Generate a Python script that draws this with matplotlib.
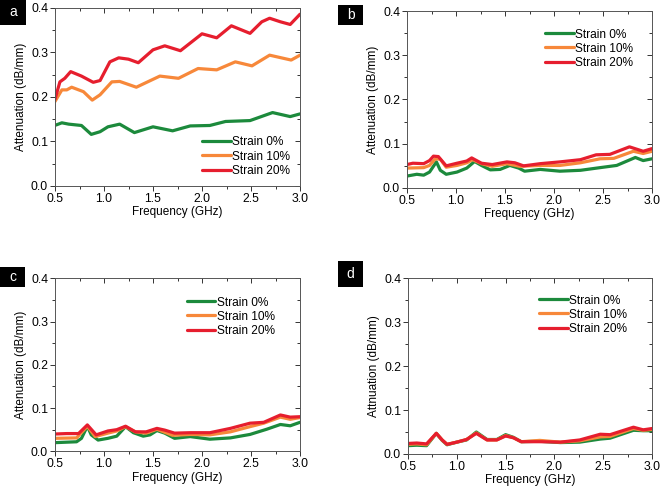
import numpy as np
import matplotlib
matplotlib.use('Agg')
import matplotlib.pyplot as plt
from matplotlib.patches import Rectangle
from matplotlib.ticker import MultipleLocator, FormatStrFormatter

plt.rcParams['font.family'] = ['Liberation Sans', 'DejaVu Sans']

labels = ['Strain 0%', 'Strain 10%', 'Strain 20%']
colors = ['#1c8a3c', '#f7883a', '#e61e2e']

# panel a
a_f0 = [0.51, 0.57, 0.64, 0.77, 0.87, 0.96, 1.04, 1.16, 1.31, 1.50, 1.70, 1.88, 2.08, 2.24, 2.49, 2.72, 2.90, 3.0]
a_v0 = [0.137, 0.142, 0.139, 0.136, 0.116, 0.122, 0.133, 0.139, 0.120, 0.133, 0.124, 0.135, 0.136, 0.145, 0.147, 0.165, 0.156, 0.162]
a_f1 = [0.5, 0.57, 0.62, 0.67, 0.79, 0.88, 0.96, 1.08, 1.16, 1.33, 1.57, 1.76, 1.96, 2.15, 2.34, 2.51, 2.69, 2.91, 3.0]
a_v1 = [0.190, 0.216, 0.216, 0.222, 0.212, 0.193, 0.205, 0.234, 0.235, 0.222, 0.247, 0.242, 0.264, 0.261, 0.279, 0.270, 0.294, 0.283, 0.294]
a_f2 = [0.5, 0.55, 0.60, 0.66, 0.77, 0.89, 0.96, 1.06, 1.15, 1.25, 1.35, 1.50, 1.62, 1.78, 2.0, 2.15, 2.30, 2.49, 2.61, 2.69, 2.80, 2.90, 3.0]
a_v2 = [0.195, 0.234, 0.242, 0.257, 0.247, 0.233, 0.237, 0.279, 0.288, 0.285, 0.277, 0.306, 0.315, 0.304, 0.342, 0.333, 0.360, 0.343, 0.369, 0.377, 0.369, 0.363, 0.386]

# panel b
b_f0 = [0.5, 0.6, 0.67, 0.73, 0.80, 0.84, 0.90, 1.01, 1.11, 1.19, 1.26, 1.35, 1.45, 1.55, 1.64, 1.70, 1.86, 2.06, 2.27, 2.47, 2.64, 2.83, 2.91, 3.0]
b_v0 = [0.027, 0.031, 0.029, 0.036, 0.059, 0.040, 0.031, 0.036, 0.045, 0.060, 0.051, 0.041, 0.042, 0.051, 0.045, 0.038, 0.042, 0.038, 0.040, 0.046, 0.051, 0.069, 0.062, 0.066]
b_f1 = [0.5, 0.67, 0.73, 0.79, 0.84, 0.90, 1.01, 1.11, 1.17, 1.26, 1.37, 1.52, 1.65, 1.86, 2.06, 2.27, 2.47, 2.61, 2.81, 2.91, 3.0]
b_v1 = [0.045, 0.046, 0.051, 0.066, 0.065, 0.047, 0.051, 0.057, 0.064, 0.055, 0.049, 0.055, 0.049, 0.051, 0.051, 0.057, 0.066, 0.067, 0.083, 0.078, 0.083]
b_f2 = [0.5, 0.56, 0.67, 0.73, 0.77, 0.82, 0.90, 1.01, 1.11, 1.16, 1.26, 1.37, 1.52, 1.60, 1.69, 1.86, 2.06, 2.27, 2.43, 2.57, 2.77, 2.91, 3.0]
b_v2 = [0.053, 0.056, 0.055, 0.062, 0.072, 0.071, 0.050, 0.056, 0.061, 0.068, 0.056, 0.053, 0.059, 0.057, 0.050, 0.055, 0.059, 0.064, 0.075, 0.076, 0.093, 0.083, 0.089]

# panel c
c_f0 = [0.5, 0.72, 0.77, 0.83, 0.87, 0.94, 1.04, 1.13, 1.22, 1.30, 1.40, 1.47, 1.54, 1.62, 1.72, 1.88, 2.08, 2.29, 2.49, 2.66, 2.80, 2.90, 3.0]
c_v0 = [0.020, 0.022, 0.030, 0.058, 0.038, 0.026, 0.030, 0.035, 0.057, 0.043, 0.035, 0.038, 0.048, 0.042, 0.030, 0.034, 0.028, 0.031, 0.039, 0.051, 0.062, 0.059, 0.067]
c_f1 = [0.5, 0.72, 0.83, 0.91, 1.04, 1.13, 1.22, 1.32, 1.43, 1.54, 1.70, 1.88, 2.08, 2.29, 2.49, 2.63, 2.80, 2.90, 3.0]
c_v1 = [0.030, 0.031, 0.058, 0.034, 0.042, 0.047, 0.057, 0.045, 0.042, 0.051, 0.037, 0.039, 0.038, 0.045, 0.057, 0.065, 0.079, 0.074, 0.078]
c_f2 = [0.5, 0.62, 0.74, 0.83, 0.92, 1.04, 1.13, 1.22, 1.32, 1.43, 1.54, 1.62, 1.72, 1.88, 2.08, 2.29, 2.49, 2.63, 2.80, 2.90, 3.0]
c_v2 = [0.040, 0.041, 0.041, 0.061, 0.038, 0.047, 0.050, 0.058, 0.045, 0.045, 0.053, 0.049, 0.042, 0.043, 0.043, 0.053, 0.065, 0.067, 0.084, 0.079, 0.080]

# panel d
d_f = [0.5, 0.59, 0.69, 0.79, 0.85, 0.90, 1.0, 1.10, 1.20, 1.31, 1.41, 1.50, 1.58, 1.66, 1.85, 2.06, 2.26, 2.47, 2.57, 2.81, 2.91, 3.0]
d_v0 = [0.019, 0.020, 0.019, 0.047, 0.031, 0.021, 0.027, 0.032, 0.050, 0.033, 0.033, 0.044, 0.038, 0.028, 0.029, 0.026, 0.027, 0.034, 0.036, 0.054, 0.053, 0.053]
d_v1 = [0.022, 0.023, 0.021, 0.047, 0.032, 0.022, 0.027, 0.033, 0.048, 0.032, 0.032, 0.042, 0.037, 0.028, 0.031, 0.027, 0.030, 0.039, 0.040, 0.058, 0.054, 0.056]
d_v2 = [0.024, 0.025, 0.023, 0.047, 0.032, 0.022, 0.027, 0.033, 0.047, 0.032, 0.032, 0.041, 0.037, 0.028, 0.028, 0.027, 0.032, 0.045, 0.044, 0.061, 0.055, 0.058]

W, H = 660, 488

def px_axes(fig, left, top, right, bottom):
    return fig.add_axes([left / W, 1 - bottom / H, (right - left) / W, (bottom - top) / H])

def style(ax, ylabel, leg_loc):
    ax.set_xlim(0.5, 3.0)
    ax.set_ylim(0.0, 0.4)
    ax.xaxis.set_major_locator(MultipleLocator(0.5))
    ax.xaxis.set_minor_locator(MultipleLocator(0.25))
    ax.yaxis.set_major_locator(MultipleLocator(0.1))
    ax.yaxis.set_minor_locator(MultipleLocator(0.05))
    ax.xaxis.set_major_formatter(FormatStrFormatter('%.1f'))
    ax.yaxis.set_major_formatter(FormatStrFormatter('%.1f'))
    ax.tick_params(which='major', direction='out', length=3.5, width=0.7, labelsize=8.8, pad=1.5, color='#333333')
    ax.tick_params(which='minor', direction='out', length=2, width=0.7, color='#333333')
    for s in ax.spines.values():
        s.set_linewidth(0.7)
        s.set_color('#555555')
    # mirrored ticks pointing inward on top and right
    top = ax.secondary_xaxis('top')
    top.xaxis.set_major_locator(MultipleLocator(0.5))
    top.xaxis.set_minor_locator(MultipleLocator(0.25))
    top.tick_params(which='both', direction='in', labeltop=False, width=0.7, color='#333333')
    top.tick_params(which='major', length=3.5)
    top.tick_params(which='minor', length=2)
    top.spines['top'].set_visible(False)
    right = ax.secondary_yaxis('right')
    right.yaxis.set_major_locator(MultipleLocator(0.1))
    right.yaxis.set_minor_locator(MultipleLocator(0.05))
    right.tick_params(which='both', direction='in', labelright=False, width=0.7, color='#333333')
    right.tick_params(which='major', length=3.5)
    right.tick_params(which='minor', length=2)
    right.spines['right'].set_visible(False)
    ax.set_xlabel('Frequency (GHz)', fontsize=8.5, labelpad=1)
    ax.set_ylabel(ylabel, fontsize=8.5, labelpad=3)
    ax.legend(loc='upper left', bbox_to_anchor=leg_loc, frameon=False, fontsize=8.6,
              handlelength=2.4, handletextpad=0.15, labelspacing=0.18, borderpad=0, borderaxespad=0)

def panel_label(fig, x0, y0, x1, y1, txt):
    fig.patches.append(Rectangle((x0 / W, 1 - y1 / H), (x1 - x0) / W, (y1 - y0) / H,
                                 transform=fig.transFigure, fc='black', ec='none'))
    fig.text((x0 + x1) / 2 / W, 1 - (y0 + y1) / 2 / H, txt, color='white', fontsize=10,
             ha='center', va='center')

fig = plt.figure(figsize=(6.6, 4.88), dpi=100)

ax = px_axes(fig, 55, 8, 300, 186)
for f, v, c, l in zip([a_f0, a_f1, a_f2], [a_v0, a_v1, a_v2], colors, labels):
    ax.plot(f, v, color=c, lw=2.3, label=l, solid_joinstyle='round', solid_capstyle='round')
style(ax, 'Attenuation (dB/mm)', ((202 - 55) / 245, (186 - 136.5) / 178))
panel_label(fig, 0, 0, 26, 25, 'a')

ax = px_axes(fig, 407, 11, 652, 188)
for f, v, c, l in zip([b_f0, b_f1, b_f2], [b_v0, b_v1, b_v2], colors, labels):
    ax.plot(f, v, color=c, lw=2.3, label=l, solid_joinstyle='round', solid_capstyle='round')
style(ax, 'Attenuation (dB/mm)', ((545 - 407) / 245, (188 - 28.5) / 177))
panel_label(fig, 338, 5, 363, 25, 'b')

ax = px_axes(fig, 55, 278.3, 300, 451.3)
for f, v, c, l in zip([c_f0, c_f1, c_f2], [c_v0, c_v1, c_v2], colors, labels):
    ax.plot(f, v, color=c, lw=2.3, label=l, solid_joinstyle='round', solid_capstyle='round')
style(ax, 'Attenuation (dB/mm)', ((186.7 - 55) / 245, (451.3 - 296.5) / 173))
panel_label(fig, 0, 267, 25, 287, 'c')

ax = px_axes(fig, 408, 278.3, 652, 454)
for v, c, l in zip([d_v0, d_v1, d_v2], colors, labels):
    ax.plot(d_f, v, color=c, lw=2.3, label=l, solid_joinstyle='round', solid_capstyle='round')
style(ax, 'Attnuation (dB/mm)', ((539 - 408) / 244, (454 - 294.5) / 175.7))
panel_label(fig, 338, 261, 363, 287, 'd')

fig.savefig('out.png', dpi=100)
